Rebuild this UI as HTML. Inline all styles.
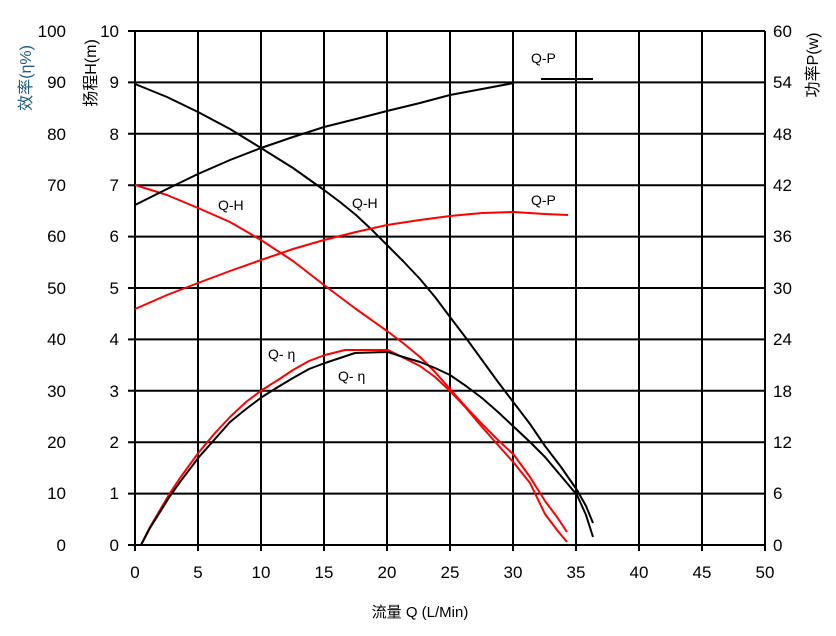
<!DOCTYPE html>
<html><head><meta charset="utf-8"><style>
body{margin:0;background:#fff}
svg{display:block;font-family:"Liberation Sans","Noto Sans CJK SC",sans-serif}
</style></head><body>
<svg width="836" height="636" viewBox="0 0 836 636" xmlns="http://www.w3.org/2000/svg">
<g stroke="#000" stroke-width="2" fill="none">
<path d="M135 31V551M198 31V551M261 31V551M324 31V551M387 31V551M450 31V551M513 31V551M576 31V551M639 31V551M702 31V551M765 31V551"/>
<path d="M128 31H765M128 82.4H765M128 133.8H765M128 185.2H765M128 236.6H765M128 288H765M128 339.4H765M128 390.8H765M128 442.2H765M128 493.6H765M128 545H765"/>
</g>
<g font-size="17" fill="#000">
<g text-anchor="end">
<text x="66" y="37">100</text><text x="66" y="88">90</text><text x="66" y="140">80</text><text x="66" y="191">70</text><text x="66" y="242">60</text><text x="66" y="294">50</text><text x="66" y="345">40</text><text x="66" y="397">30</text><text x="66" y="448">20</text><text x="66" y="499">10</text><text x="66" y="551">0</text>
<text x="119" y="37">10</text><text x="119" y="88">9</text><text x="119" y="140">8</text><text x="119" y="191">7</text><text x="119" y="242">6</text><text x="119" y="294">5</text><text x="119" y="345">4</text><text x="119" y="397">3</text><text x="119" y="448">2</text><text x="119" y="499">1</text><text x="119" y="551">0</text>
</g>
<g text-anchor="start">
<text x="773" y="37">60</text><text x="773" y="88">54</text><text x="773" y="140">48</text><text x="773" y="191">42</text><text x="773" y="242">36</text><text x="773" y="294">30</text><text x="773" y="345">24</text><text x="773" y="397">18</text><text x="773" y="448">12</text><text x="773" y="499">6</text><text x="773" y="551">0</text>
</g>
<g text-anchor="middle">
<text x="135" y="578">0</text><text x="198" y="578">5</text><text x="261" y="578">10</text><text x="324" y="578">15</text><text x="387" y="578">20</text><text x="450" y="578">25</text><text x="513" y="578">30</text><text x="576" y="578">35</text><text x="639" y="578">40</text><text x="702" y="578">45</text><text x="765" y="578">50</text>
</g>
</g>
<text x="420" y="617" font-size="15" text-anchor="middle">流量 Q (L/Min)</text>
<text transform="translate(31,78) rotate(-90)" font-size="16" fill="#1f5c85" text-anchor="middle">效率(η%)</text>
<text transform="translate(96,73) rotate(-90)" font-size="16" text-anchor="middle">扬程H(m)</text>
<text transform="translate(818,65) rotate(-90)" font-size="16" text-anchor="middle">功率P(w)</text>
<g font-size="14" fill="#000">
<text x="531" y="63">Q-P</text><text x="531" y="205">Q-P</text>
<text x="218" y="210">Q-H</text><text x="352" y="208">Q-H</text>
<text x="268" y="359">Q- η</text><text x="338" y="381">Q- η</text>
</g>
<g fill="none" stroke-width="2" stroke-linejoin="round">
<polyline stroke="#000" points="135,84 167,97 198,112 230,129 261,148 293,168 324,190 340,202 356,215 372,230 387,245 403,261 420,279 435,297 450,317 466,338 482,360 498,382 514,403 530,424 545,446 561,467 577,490 586,506 593,523"/>
<polyline stroke="#f00" points="135,185 167,195 198,208 230,222 261,240 293,261 324,285 356,309 387,331 403,343 420,357 435,372 450,389 466,407 482,424 498,440 514,455 530,477 545,501 557,517 567,532"/>
<polyline stroke="#000" points="135,205 167,189 198,174 230,160 261,148 293,137 324,127 356,119 387,111 420,103 450,95 482,89 514,83"/>
<path stroke="#000" d="M541 79H593"/>
<polyline stroke="#f00" points="135,309 167,295 198,283 230,271 261,260 293,249 324,240 356,232 387,225 420,220 450,216 482,213 514,212 545,214 568,215"/>
<polyline stroke="#f00" points="141,545 150,527 160,510 170,493 180,478 199,452 215,433 230,417 246,402 262,390 278,380 293,370 309,361 325,355 345,350 388,350 400,356 420,366 435,377 450,391 466,408 482,427 498,445 514,463 530,483 545,514 557,530 567,542"/>
<polyline stroke="#000" points="141,545 150,528 160,512 170,496 180,482 199,457 215,439 230,422 246,409 262,397 278,387 293,378 309,369 325,363 355,353 388,352 400,356 420,362 435,368 450,375 466,386 482,398 498,412 514,427 530,442 545,457 561,476 577,495 586,515 593,537"/>
</g>
</svg>
</body></html>
